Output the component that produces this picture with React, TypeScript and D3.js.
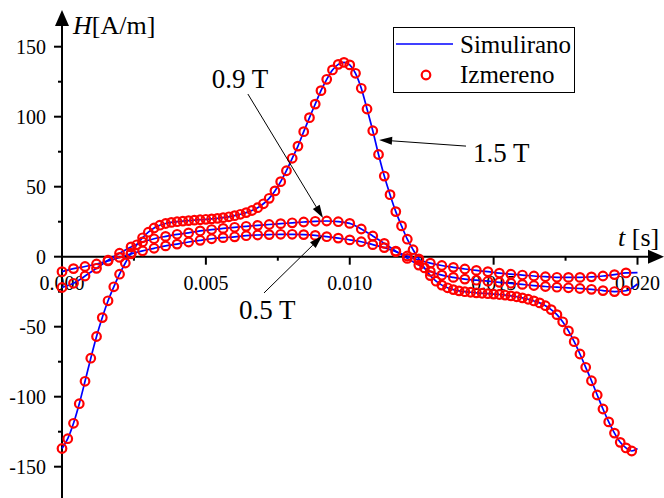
import React from "react";
import * as d3 from "d3";

// ---- data (time step per series, H values in A/m) ----
const DT_15 = 0.0002;
const DT_LOW = 0.0004;

const H15: number[] = [
  -137, -130, -119, -105, -89, -72.5, -57, -43.5, -31.5, -21.5,
  -12.5, -4.5, 2.5, 8.5, 13.5, 17.5, 20.5, 22.5, 23.7, 24.5,
  25, 25.4, 25.8, 26.1, 26.4, 26.7, 27, 27.4, 27.9, 28.5,
  29.3, 30.3, 31.5, 33, 35, 37.8, 41.7, 47, 53.6, 61.4,
  70.3, 79, 89.3, 99.3, 109, 118.6, 126.7, 133.4, 137.4, 138.8,
  137, 131, 120.3, 105.5, 90, 73, 57.6, 44.3, 32.2, 22,
  12.5, 5, -1.5, -8, -13.5, -17.5, -20.3, -22.2, -23.5, -24.4,
  -25, -25.4, -25.8, -26.1, -26.4, -26.7, -27, -27.4, -28, -28.6,
  -29.4, -30.4, -31.6, -33, -35, -37.8, -41.4, -46.5, -53, -60.7,
  -69.5, -79, -88.6, -98.8, -108.8, -118, -126, -132.6, -136.6, -138.8,
  -137,
];

const H09: number[] = [
  -22, -19, -13.8, -8.3, -2.5, 2.5, 7, 10.5, 12.8, 14.5,
  16, 17, 18.4, 19.4, 20.2, 21, 21.7, 22.4, 23, 23.6,
  24.2, 24.8, 25.3, 25.5, 25, 23.8, 19.8, 14.8, 9.5, 4,
  -1.2, -6, -10.5, -13.2, -14.8, -16, -16.8, -17.5, -18.3, -19,
  -19.8, -20.6, -21.3, -21.8, -22.2, -22.7, -23.3, -24.2, -24.9, -24.3,
  -19.5,
];

const H05: number[] = [
  -10.7, -8.5, -7, -5.2, -3, -0.5, 2, 4.2, 6, 7.7,
  9, 10.5, 11.7, 12.8, 13.6, 14.2, 15, 15.5, 15.8, 16,
  16, 15.8, 15.2, 14.3, 13.3, 12, 10.7, 8.6, 6.5, 3.6,
  0.5, -2.4, -4.6, -6.3, -7.6, -8.8, -9.8, -10.7, -11.7, -12.5,
  -13.1, -13.8, -14.3, -14.7, -14.8, -14.8, -14.4, -13.8, -12.8, -11.6,
  -11.4,
];

const X_MAJOR = [0, 0.005, 0.01, 0.015, 0.02];
const X_MINOR = [0.0025, 0.0075, 0.0125, 0.0175];
const Y_MAJOR = [-150, -100, -50, 0, 50, 100, 150];
const Y_MINOR = [-125, -75, -25, 25, 75, 125];

const LEGEND = ["Simulirano", "Izmereno"];

// annotations: label position and arrow (from -> to) in data units
const ANNOTATIONS = [
  { text: "0.9 T", lt: 0.0052, lh: 120.5, from: [0.00646, 116.2], to: [0.00907, 27.6] },
  { text: "1.5 T", lt: 0.01428, lh: 68, from: [0.01404, 79], to: [0.01102, 83.4] },
  { text: "0.5 T", lt: 0.00615, lh: -44.5, from: [0.00702, -25.9], to: [0.00904, 14.8] },
];

const W = 664;
const H = 498;
const TXT = { fontFamily: "Liberation Serif" };

const x = d3.scaleLinear().domain([0, 0.02]).range([62, 637.5]);
const y = d3.scaleLinear().domain([-150, 150]).range([466.7, 46.7]);

type Pt = { t: number; h: number };
const toPts = (arr: number[], dt: number): Pt[] => arr.map((h, i) => ({ t: i * dt, h }));

const series = [
  { pts: toPts(H15, DT_15) },
  { pts: toPts(H09, DT_LOW) },
  { pts: toPts(H05, DT_LOW) },
];

const line = d3
  .line<Pt>()
  .x((d) => x(d.t))
  .y((d) => y(d.h))
  .curve(d3.curveMonotoneX);

function Arrow({ x1, y1, x2, y2 }: { x1: number; y1: number; x2: number; y2: number }) {
  const ang = Math.atan2(y2 - y1, x2 - x1);
  const L = 13;
  const Wd = 4;
  const bx = x2 - L * Math.cos(ang);
  const by = y2 - L * Math.sin(ang);
  const px = -Math.sin(ang) * Wd;
  const py = Math.cos(ang) * Wd;
  return (
    <g>
      <line x1={x1} y1={y1} x2={bx} y2={by} stroke="#000" strokeWidth={1} />
      <polygon points={`${x2},${y2} ${bx + px},${by + py} ${bx - px},${by - py}`} fill="#000" />
    </g>
  );
}

export default function App() {
  const x0 = x(0);
  const y0 = y(0);
  const fmtX = d3.format(".3f");
  return (
    <svg width={W} height={H} style={{ position: "absolute", left: 0, top: 0, background: "#fff" }}>
      <rect x={0} y={0} width={W} height={H} fill="#fff" />
      {/* x tick labels (under curves) */}
      {X_MAJOR.map((v) => (
        <text key={"xl" + v} x={x(v)} y={y0 + 33} fontSize={20} textAnchor="middle" fill="#000" style={TXT}>
          {fmtX(v)}
        </text>
      ))}
      {/* y tick labels */}
      {Y_MAJOR.map((v) => (
        <text key={"yl" + v} x={x0 - 16} y={y(v) + 7} fontSize={20} textAnchor="end" fill="#000" style={TXT}>
          {v}
        </text>
      ))}
      {/* axes */}
      <line x1={x0} y1={H} x2={x0} y2={22} stroke="#000" strokeWidth={2} />
      <polygon points={`${x0},10 ${x0 - 7},26 ${x0 + 7},26`} fill="#000" />
      <line x1={x0} y1={y0} x2={652} y2={y0} stroke="#000" strokeWidth={2} />
      <polygon points={`${W},${y0} ${W - 16},${y0 - 7} ${W - 16},${y0 + 7}`} fill="#000" />
      {X_MAJOR.filter((v) => v > 0).map((v) => (
        <line key={"xt" + v} x1={x(v)} y1={y0} x2={x(v)} y2={y0 + 8} stroke="#000" strokeWidth={2} />
      ))}
      {X_MINOR.map((v) => (
        <line key={"xm" + v} x1={x(v)} y1={y0} x2={x(v)} y2={y0 + 4} stroke="#000" strokeWidth={2} />
      ))}
      {Y_MAJOR.map((v) => (
        <line key={"yt" + v} x1={x0 - 8} y1={y(v)} x2={x0} y2={y(v)} stroke="#000" strokeWidth={2} />
      ))}
      {Y_MINOR.map((v) => (
        <line key={"ym" + v} x1={x0 - 4} y1={y(v)} x2={x0} y2={y(v)} stroke="#000" strokeWidth={2} />
      ))}
      {/* axis titles */}
      <text x={73} y={34} fontSize={26} fill="#000" style={TXT}>
        <tspan fontStyle="italic">H</tspan>
        <tspan>[A/m]</tspan>
      </text>
      <text x={618} y={246} fontSize={26} fill="#000" style={TXT}>
        <tspan fontStyle="italic">t</tspan>
        <tspan> [s]</tspan>
      </text>
      {/* curves */}
      {series.map((s, k) => (
        <path key={"ln" + k} d={line(s.pts) || ""} fill="none" stroke="#0000ff" strokeWidth={1.7} />
      ))}
      {series.map((s, k) =>
        s.pts.slice(0, s.pts.length - 1).map((p, i) => (
          <circle
            key={"c" + k + "-" + i}
            cx={x(p.t)}
            cy={y(p.h)}
            r={4.3}
            fill="none"
            stroke="#ff0000"
            strokeWidth={2.2}
          />
        ))
      )}
      {/* annotations */}
      {ANNOTATIONS.map((a) => (
        <g key={a.text}>
          <text x={x(a.lt)} y={y(a.lh)} fontSize={27} fill="#000" style={TXT}>
            {a.text}
          </text>
          <Arrow x1={x(a.from[0])} y1={y(a.from[1])} x2={x(a.to[0])} y2={y(a.to[1])} />
        </g>
      ))}
      {/* legend */}
      <g>
        <rect x={393.5} y={27.5} width={181} height={65} fill="#fff" stroke="#000" strokeWidth={1} />
        <line x1={396} y1={44} x2={453} y2={44} stroke="#0000ff" strokeWidth={1.7} />
        <text x={460} y={53} fontSize={25} fill="#000" style={TXT}>
          {LEGEND[0]}
        </text>
        <circle cx={426} cy={75} r={4.3} fill="none" stroke="#ff0000" strokeWidth={2.2} />
        <text x={460} y={83} fontSize={25} fill="#000" style={TXT}>
          {LEGEND[1]}
        </text>
      </g>
    </svg>
  );
}
